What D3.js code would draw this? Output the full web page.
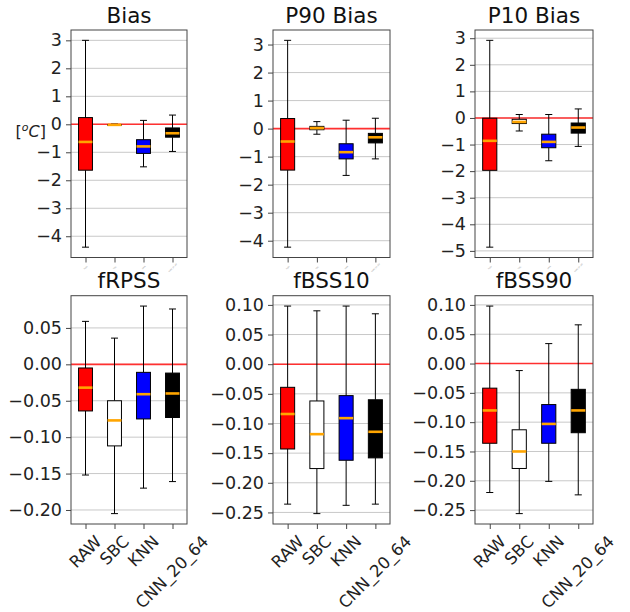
<!DOCTYPE html>
<html><head><meta charset="utf-8">
<script src="https://cdn.jsdelivr.net/npm/d3@7"></script>
<style>body{margin:0;background:#fff}svg{display:block}text{font-family:"DejaVu Sans",sans-serif}</style>
</head><body><svg id="c" width="630" height="612"></svg>
<script>
// ---- data ----
const categories = ["RAW", "SBC", "KNN", "CNN_20_64"];
const titles = ["Bias", "P90 Bias", "P10 Bias", "fRPSS", "fBSS10", "fBSS90"];
// each entry: [whisker low, Q1, median, Q3, whisker high] for RAW, SBC, KNN, CNN_20_64
const biasStats = [[-4.39, -1.64, -0.63, 0.24, 3.00], [-0.04, -0.03, -0.02, -0.01, 0.01], [-1.52, -1.04, -0.79, -0.55, 0.14], [-0.97, -0.46, -0.32, -0.13, 0.33]];
const p90BiasStats = [[-4.23, -1.48, -0.46, 0.36, 3.15], [-0.20, -0.04, 0.02, 0.08, 0.25], [-1.67, -1.08, -0.84, -0.54, 0.30], [-1.08, -0.51, -0.31, -0.17, 0.37]];
const p10BiasStats = [[-4.86, -1.97, -0.86, -0.01, 2.92], [-0.49, -0.21, -0.15, -0.05, 0.13], [-1.61, -1.12, -0.90, -0.61, 0.13], [-1.07, -0.57, -0.36, -0.19, 0.34]];
const frpssStats = [[-0.152, -0.064, -0.032, -0.005, 0.059], [-0.205, -0.112, -0.077, -0.050, 0.036], [-0.170, -0.075, -0.041, -0.011, 0.080], [-0.161, -0.073, -0.040, -0.012, 0.076]];
const fbss10Stats = [[-0.236, -0.143, -0.084, -0.039, 0.098], [-0.252, -0.176, -0.118, -0.062, 0.090], [-0.238, -0.162, -0.091, -0.053, 0.098], [-0.236, -0.158, -0.114, -0.060, 0.085]];
const fbss90Stats = [[-0.220, -0.136, -0.080, -0.042, 0.098], [-0.256, -0.179, -0.150, -0.113, -0.012], [-0.201, -0.136, -0.103, -0.070, 0.034], [-0.224, -0.118, -0.080, -0.044, 0.066]];
const ticksBias = [3, 2, 1, 0, -1, -2, -3, -4];
const ticksP10 = [3, 2, 1, 0, -1, -2, -3, -4, -5];
const ticksFrpss = [0.05, 0.00, -0.05, -0.10, -0.15, -0.20];
const ticksFbss = [0.10, 0.05, 0.00, -0.05, -0.10, -0.15, -0.20, -0.25];
const referenceValue = 0;

// ---- style / layout ----
const boxFill = ["#ff0000", "#ffffff", "#0000ff", "#000000"];
const panelStats = [biasStats, p90BiasStats, p10BiasStats, frpssStats, fbss10Stats, fbss90Stats];
const panelTicks = [ticksBias, ticksBias, ticksP10, ticksFrpss, ticksFbss, ticksFbss];
const colX = [[71, 187], [273, 390], [475, 593]];
const rowY = [[30, 257.5], [295.7, 524]];
const tickFs = 17.5, titleFs = 21.5, xLabFs = 16.5;

const svg = d3.select("#c");
const minus = s => s.replace("-", "\u2212");

panelStats.forEach((stats, i) => {
  const col = i % 3, row = Math.floor(i / 3);
  const [x0, x1] = colX[col], [y0, y1] = rowY[row];
  const lo = d3.min(stats, d => d[0]), hi = d3.max(stats, d => d[4]);
  const pad = (hi - lo) * 0.05;
  const y = d3.scaleLinear().domain([lo - pad, hi + pad]).range([y1, y0]);
  const x = d3.scaleLinear().domain([0.5, 4.5]).range([x0, x1]);
  const g = svg.append("g");
  const fmt = row === 0 ? d3.format("d") : d3.format(".2f");

  // grid
  g.selectAll(".grid").data(panelTicks[i]).join("line")
    .attr("x1", x0).attr("x2", x1).attr("y1", d => y(d)).attr("y2", d => y(d))
    .attr("stroke", "#c8c8c8").attr("stroke-width", 1);
  // reference line
  g.append("line").attr("x1", x0).attr("x2", x1)
    .attr("y1", y(referenceValue)).attr("y2", y(referenceValue))
    .attr("stroke", "#ff3030").attr("stroke-width", 1.6);

  // y axis
  const ya = d3.axisLeft(y).tickValues(panelTicks[i]).tickSize(5).tickPadding(4)
    .tickFormat(d => minus(fmt(d)));
  const yg = g.append("g").attr("transform", `translate(${x0},0)`).call(ya);
  yg.select(".domain").remove();
  yg.selectAll("line").attr("stroke", "#444");
  yg.selectAll("text").attr("font-size", tickFs).attr("fill", "#222")
    .attr("font-family", "DejaVu Sans");

  // x axis
  const xa = d3.axisBottom(x).tickValues([1, 2, 3, 4]).tickSize(5).tickFormat("");
  const xg = g.append("g").attr("transform", `translate(0,${y1})`).call(xa);
  xg.select(".domain").remove();
  xg.selectAll("line").attr("stroke", "#444");

  const bw = (x(1.48) - x(1));
  // boxes
  stats.forEach((s, k) => {
    const cx = x(k + 1);
    const [wl, q1, md, q3, wh] = s;
    const bg = g.append("g");
    bg.append("line").attr("x1", cx).attr("x2", cx).attr("y1", y(wh)).attr("y2", y(q3)).attr("stroke", "#000");
    bg.append("line").attr("x1", cx).attr("x2", cx).attr("y1", y(q1)).attr("y2", y(wl)).attr("stroke", "#000");
    [wl, wh].forEach(v => bg.append("line").attr("x1", cx - bw / 4).attr("x2", cx + bw / 4)
      .attr("y1", y(v)).attr("y2", y(v)).attr("stroke", "#000"));
    bg.append("rect").attr("x", cx - bw / 2).attr("width", bw)
      .attr("y", y(q3)).attr("height", Math.max(0.5, y(q1) - y(q3)))
      .attr("fill", boxFill[k]).attr("stroke", "#000").attr("stroke-width", 1);
    bg.append("line").attr("x1", cx - bw / 2).attr("x2", cx + bw / 2)
      .attr("y1", y(md)).attr("y2", y(md)).attr("stroke", "#ffa500").attr("stroke-width", 2.6);
  });

  // frame
  g.append("rect").attr("x", x0).attr("y", y0).attr("width", x1 - x0).attr("height", y1 - y0)
    .attr("fill", "none").attr("stroke", "#444").attr("stroke-width", 1);

  // title
  g.append("text").attr("x", (x0 + x1) / 2).attr("y", y0 - 7.5).attr("text-anchor", "middle")
    .attr("font-size", titleFs).attr("fill", "#111").text(titles[i]);

  // x tick labels
  if (row === 1) {
    categories.forEach((c, k) => {
      const t = g.append("text").attr("font-size", xLabFs).attr("fill", "#222")
        .attr("text-anchor", "middle").attr("dominant-baseline", "central").text(c)
        .attr("transform", `translate(${x(k + 1)},${y1 + 60}) rotate(-45)`);
      const r = t.node().getBoundingClientRect();
      const cxr = r.left + r.width / 2;
      const dy = (y1 + 8) - r.top;
      t.attr("transform", `translate(${x(k + 1) + (x(k + 1) - cxr)},${y1 + 60 + dy}) rotate(-45)`);
    });
  } else {
    categories.forEach((c, k) => {
      g.append("text").attr("font-size", 2).attr("fill", "#999")
        .attr("text-anchor", "middle").attr("dominant-baseline", "central")
        .attr("transform", `translate(${x(k + 1)},${y1 + 10}) rotate(-45)`).text(c);
    });
  }

  if (i === 0) {
    const lab = g.append("text").attr("x", 46).attr("y", 137).attr("text-anchor", "end")
      .attr("font-size", 16).attr("fill", "#222");
    lab.append("tspan").text("[");
    lab.append("tspan").attr("font-style", "italic").attr("font-size", 11).attr("dy", -6).text("o");
    lab.append("tspan").attr("font-style", "italic").attr("dy", 6).text("C");
    lab.append("tspan").text("]");
  }
});
</script></body></html>
